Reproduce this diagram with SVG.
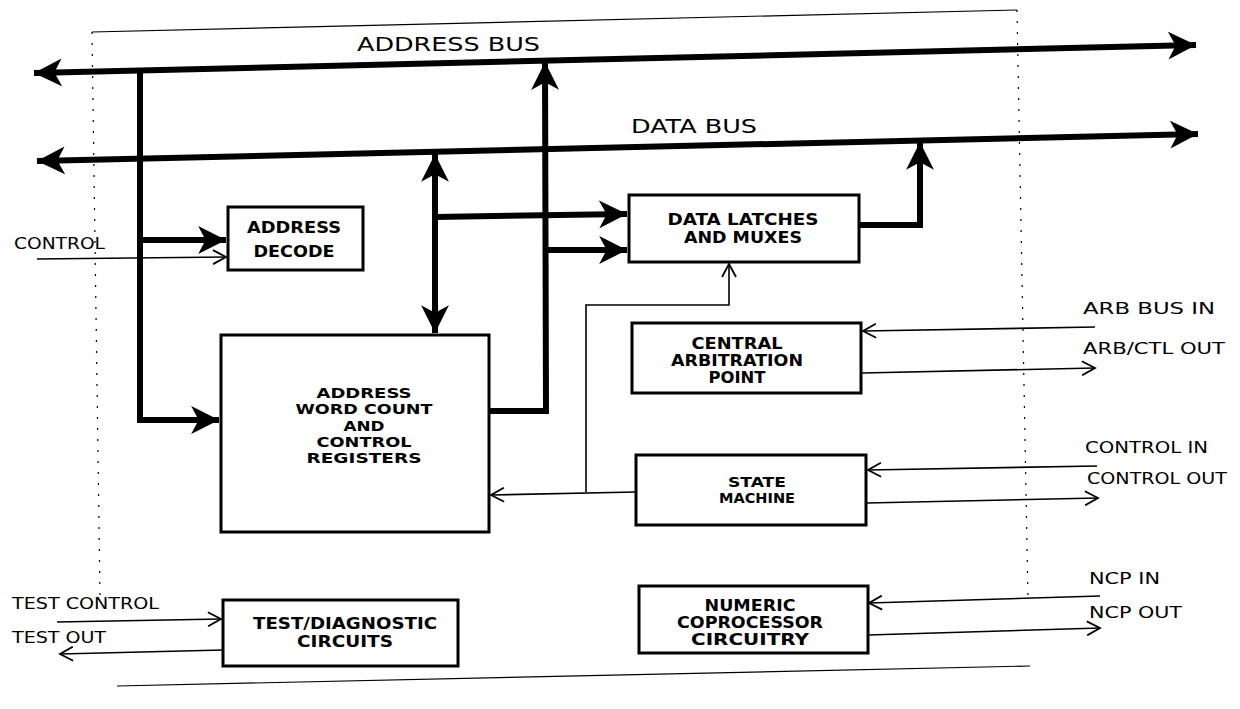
<svg xmlns="http://www.w3.org/2000/svg" width="1240" height="709" viewBox="0 0 1240 709">
<style>
.bus{fill:none;stroke:#000;stroke-width:6;stroke-linejoin:miter}
.thin{fill:none;stroke:#000;stroke-width:1.6}
.box{fill:#fff;stroke:#000;stroke-width:3}
.frame{fill:none;stroke:#000;stroke-width:1.2}
.dots{fill:none;stroke:#000;stroke-width:1.2;stroke-dasharray:2 9}
text{font-family:"DejaVu Sans","Liberation Sans",sans-serif;fill:#000}
.lbl{font-size:16px}
.big{font-size:20px}
.bt{font-size:15px;font-weight:bold;text-anchor:middle}
.bs{font-size:14px}
</style>
<defs>
<marker id="ah" markerUnits="userSpaceOnUse" markerWidth="30" markerHeight="30" viewBox="-26 -14 28 28" refX="0" refY="0" orient="auto">
<path d="M0,0 L-26,-13 L-19,0 L-26,13 Z" fill="#000"/>
</marker>
<marker id="ahs" markerUnits="userSpaceOnUse" markerWidth="30" markerHeight="30" viewBox="-26 -14 28 28" refX="0" refY="0" orient="auto-start-reverse">
<path d="M0,0 L-26,-13 L-19,0 L-26,13 Z" fill="#000"/>
</marker>
<marker id="th" markerUnits="userSpaceOnUse" markerWidth="16" markerHeight="16" viewBox="-14 -8 16 16" refX="0" refY="0" orient="auto">
<path d="M-13,-7 L0,0 L-13,7" fill="none" stroke="#000" stroke-width="1.8"/>
</marker>
</defs>

<g id="frame">
<path class="frame" d="M92,32 L1017,10"/>
<path class="dots" d="M92,32 L100,595"/>
<path class="dots" d="M1017,10 L1028,600"/>
<path class="frame" d="M117,686 L1030,666"/>
</g>

<g id="connectors">
<path class="bus" d="M34,73 L1196,45" marker-start="url(#ahs)" marker-end="url(#ah)"/>
<path class="bus" d="M37,161 L1198,134" marker-start="url(#ahs)" marker-end="url(#ah)"/>
<path class="bus" d="M140,70 L140,420 L219,420" marker-end="url(#ah)"/>
<path class="bus" d="M140,240 L226,240" marker-end="url(#ah)"/>
<path class="bus" d="M435,154 L435,333" marker-start="url(#ahs)" marker-end="url(#ah)"/>
<path class="bus" d="M435,217 L627,214" marker-end="url(#ah)"/>
<path class="bus" d="M489,411 L546,411 L545,62" marker-end="url(#ah)"/>
<path class="bus" d="M545,250 L627,250" marker-end="url(#ah)"/>
<path class="bus" d="M859,225 L920,225 L920,142" marker-end="url(#ah)"/>
<path class="thin" d="M37,259 L226,257" marker-end="url(#th)"/>
<path class="thin" d="M636,492 L491,495" marker-end="url(#th)"/>
<path class="thin" d="M586,492 L586,305 L729,305 L729,264" marker-end="url(#th)"/>
<path class="thin" d="M1095,327 L863,331" marker-end="url(#th)"/>
<path class="thin" d="M862,373 L1095,368" marker-end="url(#th)"/>
<path class="thin" d="M1097,466 L868,470" marker-end="url(#th)"/>
<path class="thin" d="M867,503 L1098,498" marker-end="url(#th)"/>
<path class="thin" d="M1100,596 L869,603" marker-end="url(#th)"/>
<path class="thin" d="M868,635 L1100,628" marker-end="url(#th)"/>
<path class="thin" d="M57,622 L221,619" marker-end="url(#th)"/>
<path class="thin" d="M223,650 L60,654" marker-end="url(#th)"/>
</g>

<g id="labels">
<text class="big" x="357" y="51" textLength="183" lengthAdjust="spacingAndGlyphs">ADDRESS BUS</text>
<text class="big" x="631" y="133" textLength="126" lengthAdjust="spacingAndGlyphs">DATA BUS</text>
<text class="lbl" x="14" y="249" textLength="91" lengthAdjust="spacingAndGlyphs">CONTROL</text>
<text class="lbl" x="1083" y="314" textLength="132" lengthAdjust="spacingAndGlyphs">ARB BUS IN</text>
<text class="lbl" x="1083" y="354" textLength="142" lengthAdjust="spacingAndGlyphs">ARB/CTL OUT</text>
<text class="lbl" x="1085" y="453" textLength="123" lengthAdjust="spacingAndGlyphs">CONTROL IN</text>
<text class="lbl" x="1087" y="484" textLength="140" lengthAdjust="spacingAndGlyphs">CONTROL OUT</text>
<text class="lbl" x="1089" y="584" textLength="71" lengthAdjust="spacingAndGlyphs">NCP IN</text>
<text class="lbl" x="1089" y="618" textLength="93" lengthAdjust="spacingAndGlyphs">NCP OUT</text>
<text class="lbl" x="12" y="609" textLength="147" lengthAdjust="spacingAndGlyphs">TEST CONTROL</text>
<text class="lbl" x="12" y="643" textLength="94" lengthAdjust="spacingAndGlyphs">TEST OUT</text>
</g>

<g id="address-decode">
<rect class="box" x="228" y="207" width="135" height="63"/>
<text class="bt" x="294" y="233" textLength="94" lengthAdjust="spacingAndGlyphs">ADDRESS</text>
<text class="bt" x="294" y="257" textLength="81" lengthAdjust="spacingAndGlyphs">DECODE</text>
</g>

<g id="registers">
<rect class="box" x="221" y="335" width="268" height="197"/>
<text class="bt bs" x="364" y="398" textLength="95" lengthAdjust="spacingAndGlyphs">ADDRESS</text>
<text class="bt bs" x="364" y="414" textLength="137" lengthAdjust="spacingAndGlyphs">WORD COUNT</text>
<text class="bt bs" x="364" y="431" textLength="41" lengthAdjust="spacingAndGlyphs">AND</text>
<text class="bt bs" x="364" y="447" textLength="95" lengthAdjust="spacingAndGlyphs">CONTROL</text>
<text class="bt bs" x="364" y="463" textLength="115" lengthAdjust="spacingAndGlyphs">REGISTERS</text>
</g>

<g id="data-latches">
<rect class="box" x="629" y="195" width="230" height="67"/>
<text class="bt" x="743" y="225" textLength="151" lengthAdjust="spacingAndGlyphs">DATA LATCHES</text>
<text class="bt" x="743" y="243" textLength="118" lengthAdjust="spacingAndGlyphs">AND MUXES</text>
</g>

<g id="central-arbitration">
<rect class="box" x="632" y="323" width="229" height="70"/>
<text class="bt" x="737" y="349" textLength="91" lengthAdjust="spacingAndGlyphs">CENTRAL</text>
<text class="bt" x="737" y="366" textLength="132" lengthAdjust="spacingAndGlyphs">ARBITRATION</text>
<text class="bt" x="737" y="383" textLength="57" lengthAdjust="spacingAndGlyphs">POINT</text>
</g>

<g id="state-machine">
<rect class="box" x="636" y="455" width="230" height="70"/>
<text class="bt bs" x="757" y="487" textLength="58" lengthAdjust="spacingAndGlyphs">STATE</text>
<text class="bt bs" x="757" y="503" textLength="76" lengthAdjust="spacingAndGlyphs">MACHINE</text>
</g>

<g id="numeric-coprocessor">
<rect class="box" x="639" y="586" width="229" height="67"/>
<text class="bt" x="750" y="611" textLength="91" lengthAdjust="spacingAndGlyphs">NUMERIC</text>
<text class="bt" x="750" y="628" textLength="146" lengthAdjust="spacingAndGlyphs">COPROCESSOR</text>
<text class="bt" x="750" y="645" textLength="118" lengthAdjust="spacingAndGlyphs">CIRCUITRY</text>
</g>

<g id="test-diagnostic">
<rect class="box" x="223" y="600" width="235" height="66"/>
<text class="bt" x="345" y="629" textLength="184" lengthAdjust="spacingAndGlyphs">TEST/DIAGNOSTIC</text>
<text class="bt" x="345" y="647" textLength="96" lengthAdjust="spacingAndGlyphs">CIRCUITS</text>
</g>
</svg>
